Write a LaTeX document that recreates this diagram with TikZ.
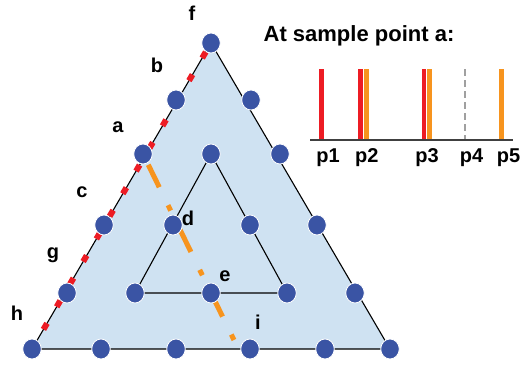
\documentclass[tikz,border=0pt]{standalone}
\usepackage{fontspec}
\setmainfont{Liberation Sans}
\usetikzlibrary{shapes.geometric}
\definecolor{dotblue}{RGB}{58,84,164}
\definecolor{trifill}{RGB}{207,226,242}
\definecolor{myred}{RGB}{237,28,36}
\definecolor{myorange}{RGB}{247,148,30}
\definecolor{axisgray}{RGB}{64,64,64}
\definecolor{peakgray}{RGB}{160,160,160}
\pgfdeclarelayer{background}
\pgfsetlayers{background,main}
\begin{document}
\begin{tikzpicture}[x=1pt,y=-1pt,
  dot/.style={shape=ellipse,fill=dotblue,draw=white,line width=0.8pt,minimum width=18.5pt,minimum height=20pt,inner sep=0pt},
  edge/.style={draw=black,line width=1.1pt},
  redline/.style={draw=myred,line width=6pt,dash pattern=on 7pt off 19.2pt,dash phase=3.5pt},
  orangeline/.style={draw=myorange,line width=5pt,dash pattern=on 25pt off 20pt on 6pt off 21pt,dash phase=60pt},
  lbl/.style={font=\fontsize{20}{24}\selectfont\bfseries,inner sep=0pt},
  ttl/.style={font=\fontsize{22}{26}\selectfont\bfseries,inner sep=0pt,anchor=base},
  redbar/.style={draw=myred,line width=4.6pt},
  orangebar/.style={draw=myorange,line width=4.6pt},
  graybar/.style={draw=peakgray,line width=1.3pt,dash pattern=on 7pt off 4pt},
  axisline/.style={draw=axisgray,line width=1.8pt}]
\useasboundingbox (0,0) rectangle (522,371);
% lattice dots
\node[dot] (v00) at (32,349) {};
\node[dot] (v01) at (101,349) {};
\node[dot] (v02) at (176,349) {};
\node[dot] (v03) at (250,349) {};
\node[dot] (v04) at (325,349) {};
\node[dot] (v05) at (390,349) {};
\node[dot] (v10) at (67,293) {};
\node[dot] (v11) at (135,293) {};
\node[dot] (v12) at (211,293) {};
\node[dot] (v13) at (287,293) {};
\node[dot] (v14) at (355,293) {};
\node[dot] (v20) at (104,225) {};
\node[dot] (v21) at (173,225) {};
\node[dot] (v22) at (250,225) {};
\node[dot] (v23) at (317,225) {};
\node[dot] (v30) at (143,154) {};
\node[dot] (v31) at (211,154) {};
\node[dot] (v32) at (280,154) {};
\node[dot] (v40) at (176,100) {};
\node[dot] (v41) at (251,100) {};
\node[dot] (v50) at (211,43) {};
\coordinate (oend) at (234,340);
\begin{pgfonlayer}{background}
\fill[trifill] (v00.center) -- (v05.center) -- (v50.center) -- cycle;
\draw[edge] (v00.center) -- (v05.center) -- (v50.center) -- cycle;
\draw[edge] (v11.center) -- (v13.center) -- (v31.center) -- cycle;
\draw[redline] (v00.center) -- (v50.center);
\draw[orangeline] (v30.center) -- (oend);
\end{pgfonlayer}
% point labels
\node[lbl] (lf) at (192,13) {f};
\node[lbl] (lb) at (157,65) {b};
\node[lbl] (la) at (118,127) {a};
\node[lbl] (lc) at (82,192) {c};
\node[lbl] (lg) at (53,255) {g};
\node[lbl] (lh) at (17,313) {h};
\node[lbl] (ld) at (188,218) {d};
\node[lbl] (le) at (225,276) {e};
\node[lbl] (li) at (258,322) {i};
% chart
\node[ttl] (title) at (359,41.5) {At sample point a:};
\coordinate (axL) at (310,140);
\coordinate (axR) at (513,140);
\draw[redbar] (321.5,69.5) -- (321.5,140);
\draw[redbar] (360.5,69.5) -- (360.5,140);
\draw[orangebar] (366.2,69.5) -- (366.2,140);
\draw[redbar] (424,69.5) -- (424,140);
\draw[orangebar] (429.5,69.5) -- (429.5,140);
\draw[graybar] (465,69.5) -- (465,140);
\draw[orangebar] (501.7,69.5) -- (501.7,140);
\draw[axisline] (axL) -- (axR);
\node[lbl] (p1) at (328,158) {p1};
\node[lbl] (p2) at (366.7,158) {p2};
\node[lbl] (p3) at (427,158) {p3};
\node[lbl] (p4) at (471.5,158) {p4};
\node[lbl] (p5) at (508.5,158) {p5};
\end{tikzpicture}
\end{document}
